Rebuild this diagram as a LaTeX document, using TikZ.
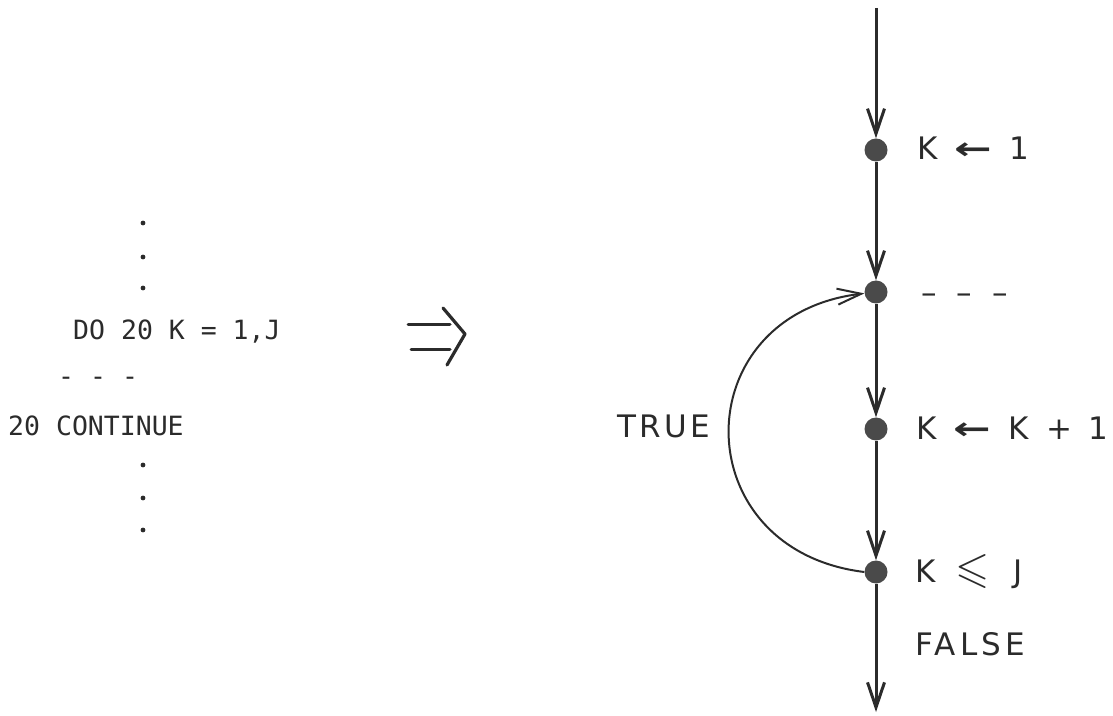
\documentclass[tikz,border=0pt]{standalone}
\usepackage{amssymb}
\usepackage{graphicx}
\usepackage{fontspec}
\usetikzlibrary{arrows.meta,positioning}
\newfontfamily\lblfont{DejaVu Sans}[LetterSpace=10]
\newfontfamily\codefont{DejaVu Sans Mono}
\definecolor{ink}{HTML}{2B2B2B}
\definecolor{dotgray}{HTML}{4A4A4A}
\newcommand{\asg}{\hspace{17pt}\scalebox{1.45}[1.0]{\bfseries ←}\hspace{17pt}}
\tikzset{
  dot/.style={circle, fill=dotgray, minimum size=23pt, inner sep=0pt},
  flow/.style={-{Straight Barb[length=25pt,width=17pt]}, line width=3pt, draw=ink},
  back/.style={-{Straight Barb[length=24pt,width=16pt]}, line width=2pt, draw=ink},
  lbl/.style={font=\fontsize{31}{36}\lblfont, anchor=base west, inner sep=0pt, text=ink},
  code/.style={font=\fontsize{26.5}{30}\codefont, anchor=base west, inner sep=0pt, text=ink}
}

\begin{document}
\begin{tikzpicture}[x=1pt,y=1pt]
  \useasboundingbox (0,0) rectangle (1113,715);
  % source text
  \foreach \y in {492,458,427,250,217,185} \fill[ink] (143,\y) circle (2.4);
  \node[code] (do) at (73,375) {DO 20 K = 1,J};
  \node[code] (dd) at (58,329) {- - -};
  \node[code] (cont) at (8,279) {20 CONTINUE};
  % implies
  \draw[ink, line width=3pt, line cap=round] (408,390) -- (450,390) (411,365) -- (450,365);
  \draw[ink, line width=3.2pt, line cap=round, line join=round] (443,407) -- (465,381) -- (447,350);
  % graph
  \coordinate (top) at (876,707);
  \node[dot] (n1) at (876,565) {};
  \node[dot] (n2) at (876,423) {};
  \node[dot] (n3) at (876,286) {};
  \node[dot] (n4) at (876,143) {};
  \coordinate (bot) at (876,3);
  \draw[flow] (top) -- (n1); \draw[flow] (n1) -- (n2); \draw[flow] (n2) -- (n3);
  \draw[flow] (n3) -- (n4); \draw[flow] (n4) -- (bot);
  \draw[back] (n4.west) .. controls (684,165) and (684,400) .. (n2);
  \node[lbl] (l1) at (917,555) {K\asg 1};
  \node[lbl] (l2) at (921,411) {–\hspace{20pt}–\hspace{20pt}–};
  \node[lbl] (l3) at (916,275) {K\asg K\hspace{18pt}+\hspace{16pt}1};
  \node[lbl] (l4) at (915,133) {K\hspace{20pt}{\fontsize{44}{44}\selectfont$\leqslant$}\hspace{24pt}J};
  \node[lbl] (l5) at (915,60) {\addfontfeature{LetterSpace=14}FALSE};
  \node[lbl, anchor=base east] (tr) at (710,277) {TRUE};
\end{tikzpicture}
\end{document}
